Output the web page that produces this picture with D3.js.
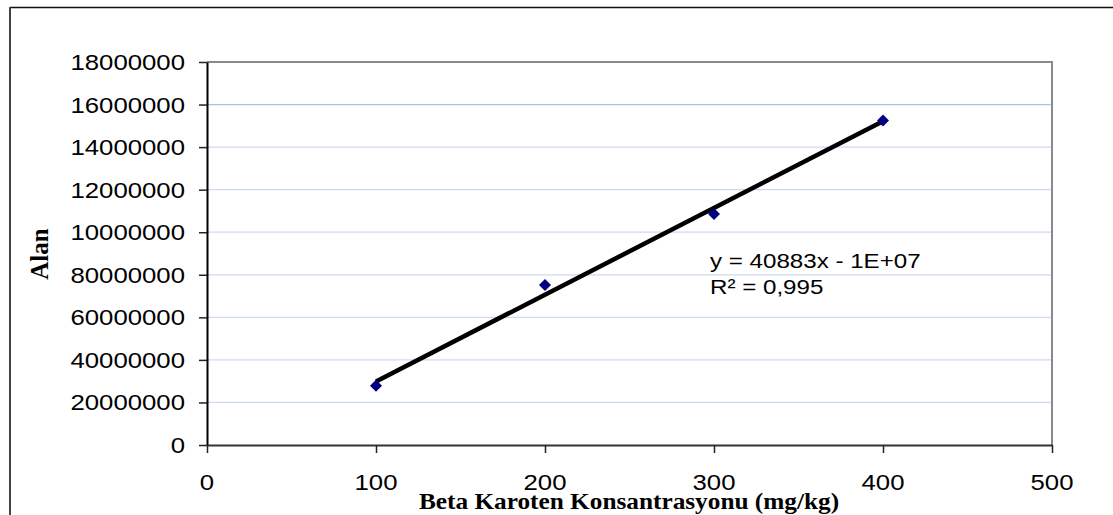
<!DOCTYPE html>
<html>
<head>
<meta charset="utf-8">
<script src="https://cdn.jsdelivr.net/npm/d3@7"></script>
<style>
body{margin:0;background:#fff}
svg{display:block}
</style>
</head>
<body>
<svg id="chart" width="1113" height="515"></svg>
<script>
// values
let concentrations = [100, 200, 300, 400];
let areas = [2780000, 7520000, 10860000, 15250000];
let xTicks = [0, 100, 200, 300, 400, 500];
let yTicks = [0, 2000000, 4000000, 6000000, 8000000, 10000000, 12000000, 14000000, 16000000, 18000000];
let yTickLabels = ["0", "20000000", "40000000", "60000000", "80000000", "10000000", "12000000", "14000000", "16000000", "18000000"];
let equationLines = ["y = 40883x - 1E+07", "R\u00b2 = 0,995"];

let svg = d3.select("#chart");
let plotLeft = 207, plotRight = 1052, plotTop = 62, plotBottom = 445;
let stretch = 1.17;

let x = d3.scaleLinear().domain([0, 500]).range([plotLeft, plotRight]);
let y = d3.scaleLinear().domain([0, 18000000]).range([plotBottom, plotTop]);

// outer frame (only top and left are visible)
svg.append("line").attr("x1", 10).attr("x2", 1113).attr("y1", 7.5).attr("y2", 7.5)
   .attr("stroke", "#111").attr("stroke-width", 1.6);
svg.append("line").attr("x1", 10).attr("x2", 10).attr("y1", 7).attr("y2", 515)
   .attr("stroke", "#444").attr("stroke-width", 2);

// gridlines
svg.append("g").selectAll("line")
   .data(yTicks.filter(d => d > 0 && d < 18000000))
   .enter().append("line")
   .attr("x1", plotLeft).attr("x2", plotRight)
   .attr("y1", d => y(d)).attr("y2", d => y(d))
   .attr("stroke", d => d == 16000000 ? "#a9c3ec" : "#ccdaf2")
   .attr("stroke-width", 1.2);

// plot border top and right
svg.append("path")
   .attr("d", `M${plotLeft},${plotTop}H${plotRight}V${plotBottom}`)
   .attr("fill", "none").attr("stroke", "#8a8a8a").attr("stroke-width", 2);

// axes
let yAxis = svg.append("g").attr("transform", `translate(${plotLeft},0)`)
   .call(d3.axisLeft(y).tickValues(yTicks).tickSize(8).tickSizeOuter(0).tickFormat(""));
let xAxis = svg.append("g").attr("transform", `translate(0,${plotBottom})`)
   .call(d3.axisBottom(x).tickValues(xTicks).tickSize(8).tickSizeOuter(0).tickFormat(""));
yAxis.select(".domain").attr("stroke", "#000").attr("stroke-width", 2);
xAxis.select(".domain").attr("stroke", "#333").attr("stroke-width", 2);
yAxis.selectAll(".tick line").attr("stroke", "#222").attr("stroke-width", 1.5);
xAxis.selectAll(".tick line").attr("stroke", "#222").attr("stroke-width", 1.5);

// helper for the slightly wide lettering of the original
function addLabel(px, py, txt, anchor, font, size, weight, k) {
    let g = svg.append("g").attr("transform", `translate(${px},${py}) scale(${k},1)`);
    g.append("text")
     .attr("text-anchor", anchor)
     .style("font-family", font)
     .style("font-size", size + "px")
     .style("font-weight", weight)
     .attr("fill", "#000")
     .text(txt);
    return g;
}

let sans = "'Liberation Sans', Arial, sans-serif";
let serif = "'Liberation Serif', 'Times New Roman', serif";

yTicks.forEach(function(d, i) {
    addLabel(185, y(d) + 8, yTickLabels[i], "end", sans, 22, "normal", stretch);
});
xTicks.forEach(function(d) {
    addLabel(x(d), 490, d, "middle", sans, 22, "normal", stretch);
});

// axis titles
addLabel(629, 509, "Beta Karoten Konsantrasyonu (mg/kg)", "middle", serif, 23, "bold", 1.1);
svg.append("text")
   .attr("transform", "translate(48,254) rotate(-90)")
   .attr("text-anchor", "middle")
   .style("font-family", serif).style("font-size", "25px").style("font-weight", "bold")
   .text("Alan");

// linear trendline (least squares over the points)
let mx = d3.mean(concentrations), my = d3.mean(areas);
let sxy = d3.sum(concentrations, (c, i) => (c - mx) * (areas[i] - my));
let sxx = d3.sum(concentrations, c => (c - mx) * (c - mx));
let slope = sxy / sxx, intercept = my - slope * mx;
let x0 = d3.min(concentrations), x1 = d3.max(concentrations);
svg.append("line")
   .attr("x1", x(x0)).attr("y1", y(slope * x0 + intercept))
   .attr("x2", x(x1)).attr("y2", y(slope * x1 + intercept))
   .attr("stroke", "#000").attr("stroke-width", 4.5);

// markers
svg.append("g").selectAll("path")
   .data(concentrations)
   .enter().append("path")
   .attr("transform", (d, i) => `translate(${x(d)},${y(areas[i])})`)
   .attr("d", "M0,-6L6,0L0,6L-6,0Z")
   .attr("fill", "#000080");

// equation
equationLines.forEach(function(t, i) {
    addLabel(710, 268 + i * 26, t, "start", sans, 21, "normal", 1.15);
});
</script>
</body>
</html>
